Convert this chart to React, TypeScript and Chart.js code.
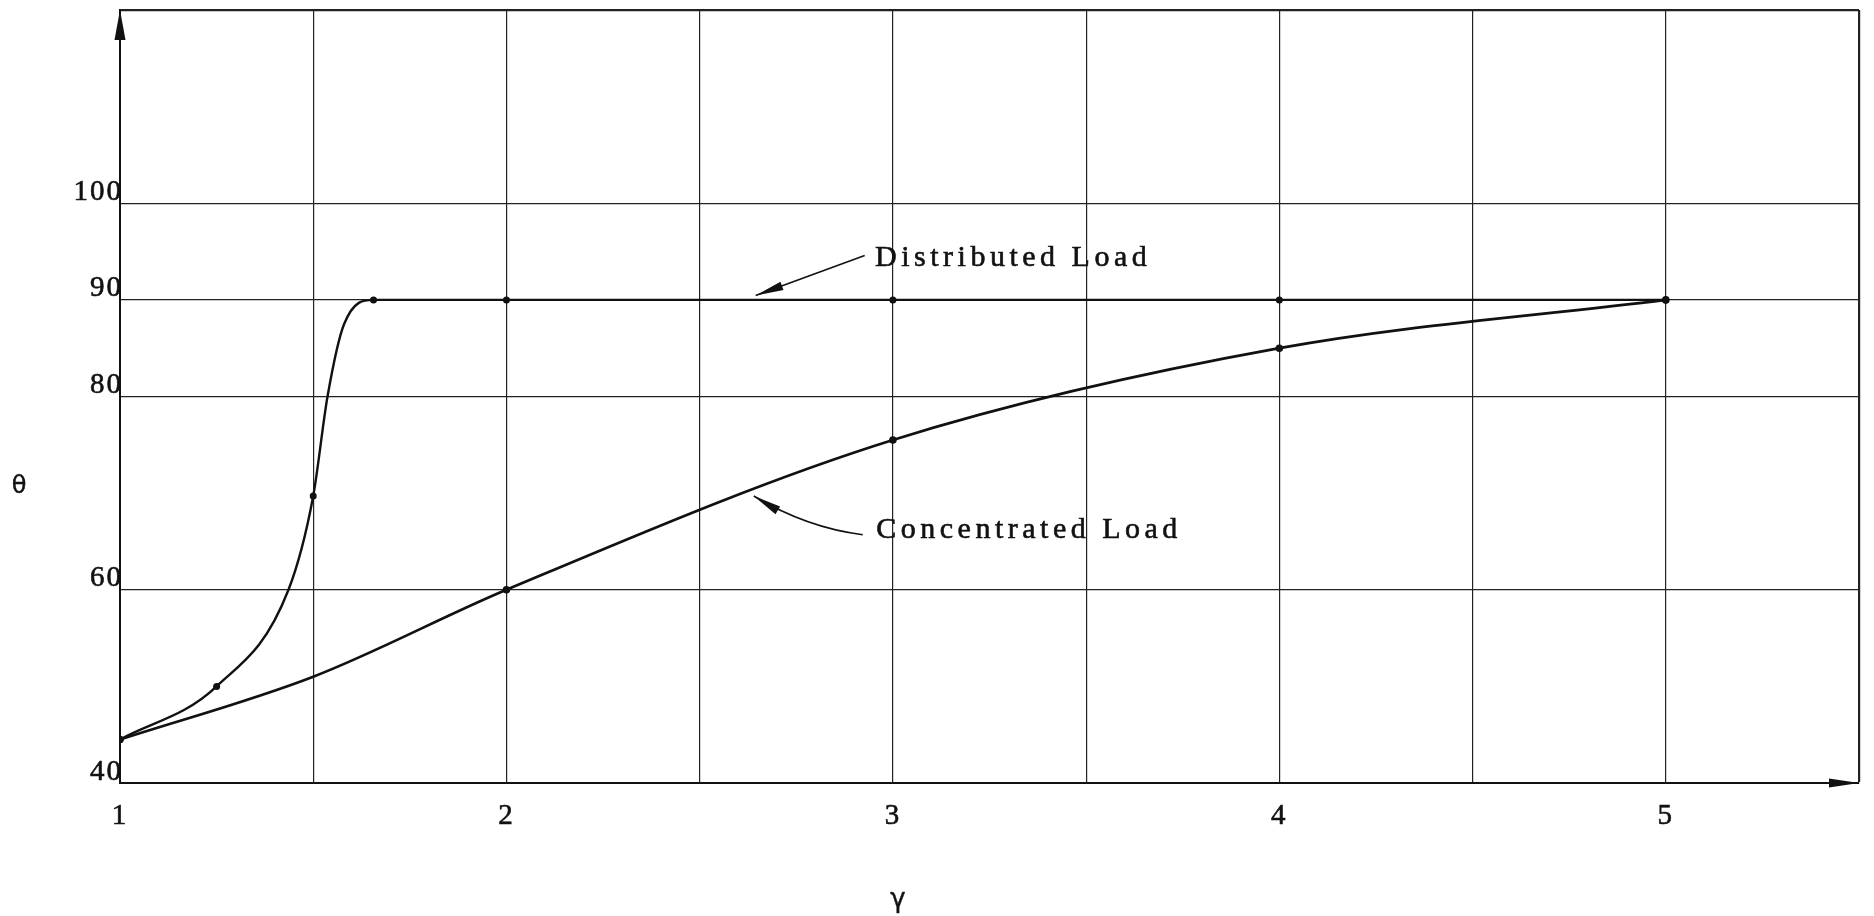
import React, { useEffect, useRef } from "react";
import { Chart, registerables } from "chart.js";

Chart.register(...registerables);

// Distributed load: gamma (x) and theta (y)
// (unmarked entries are readings taken along the drawn curve)
const gammaDistributed = [1, 1.25, 1.436, 1.5, 1.537, 1.58, 1.656, 2, 3, 4, 5];
const thetaDistributed = [44.5, 50.0, 60, 69.7, 80, 87.5, 90, 90, 90, 90, 90];
const markDistributed = [true, true, false, true, false, false, true, true, true, true, true];

// Concentrated load
const gammaConcentrated = [1, 1.5, 2, 3, 4, 5];
const thetaConcentrated = [44.5, 51.0, 60, 75.5, 85.0, 90];
const markConcentrated = [true, false, true, true, true, true];

// Axes
const xTickLabels = [1, 2, 3, 4, 5];
const yGridValues = [40, 60, 80, 90, 100, 120];
const yTickLabels = [40, 60, 80, 90, 100];
const xMin = 1;
const xMax = 5.5;
const yMin = 40;
const yMax = 120;

const labelDistributed = "Distributed Load";
const labelConcentrated = "Concentrated Load";
const xTitle = "γ";
const yTitle = "θ";

// annotation anchors (data coordinates)
const annDistributed = { text: [2.954, 94.3], tail: [2.927, 94.6], head: [2.645, 90.45] };
const annConcentrated = { text: [2.957, 66.2], tail: [2.922, 65.7], ctrl: [2.778, 66.4], head: [2.64, 69.7] };

const INK = "#111";
const SERIF = '"Liberation Serif", "DejaVu Serif", serif';

function arrowHead(ctx: CanvasRenderingContext2D, fx: number, fy: number, tx: number, ty: number, len: number, half: number) {
  const ang = Math.atan2(ty - fy, tx - fx);
  const bx = tx - Math.cos(ang) * len;
  const by = ty - Math.sin(ang) * len;
  const nx = -Math.sin(ang) * half;
  const ny = Math.cos(ang) * half;
  ctx.beginPath();
  ctx.moveTo(tx, ty);
  ctx.lineTo(bx + nx, by + ny);
  ctx.lineTo(bx - nx, by - ny);
  ctx.closePath();
  ctx.fill();
}

const overlayPlugin = {
  id: "overlay",
  beforeDraw(chart: any) {
    const ctx = chart.ctx as any;
    ctx.letterSpacing = "2px";
    ctx.fillStyle = "#fff";
    ctx.fillRect(0, 0, chart.width, chart.height);
  },
  afterDraw(chart: any) {
    const ctx = chart.ctx as CanvasRenderingContext2D;
    const { chartArea } = chart;
    const xs = chart.scales.x;
    const ys = chart.scales.y;
    ctx.save();
    ctx.fillStyle = INK;
    ctx.strokeStyle = INK;

    // y axis arrow
    const lx = chartArea.left;
    ctx.beginPath();
    ctx.moveTo(lx, chartArea.top);
    ctx.lineTo(lx - 5.5, chartArea.top + 30);
    ctx.lineTo(lx + 5.5, chartArea.top + 30);
    ctx.closePath();
    ctx.fill();

    // x axis arrow
    const by = chartArea.bottom;
    const rx = chartArea.right;
    ctx.beginPath();
    ctx.moveTo(rx, by);
    ctx.lineTo(rx - 30, by - 4.5);
    ctx.lineTo(rx - 30, by + 4.5);
    ctx.closePath();
    ctx.fill();

    // annotations
    ctx.font = `30px ${SERIF}`;
    (ctx as any).letterSpacing = "4.5px";
    ctx.textAlign = "left";
    ctx.textBaseline = "middle";
    ctx.lineWidth = 0.6;
    const dtx = xs.getPixelForValue(annDistributed.text[0]);
    const dty = ys.getPixelForValue(annDistributed.text[1]);
    ctx.strokeText(labelDistributed, dtx, dty);
    ctx.fillText(labelDistributed, dtx, dty);
    const ctx0 = xs.getPixelForValue(annConcentrated.text[0]);
    const cty0 = ys.getPixelForValue(annConcentrated.text[1]);
    ctx.strokeText(labelConcentrated, ctx0, cty0);
    ctx.fillText(labelConcentrated, ctx0, cty0);

    ctx.lineWidth = 1.6;
    // distributed arrow
    const d0x = xs.getPixelForValue(annDistributed.tail[0]);
    const d0y = ys.getPixelForValue(annDistributed.tail[1]);
    const d1x = xs.getPixelForValue(annDistributed.head[0]);
    const d1y = ys.getPixelForValue(annDistributed.head[1]);
    ctx.beginPath();
    ctx.moveTo(d0x, d0y);
    ctx.lineTo(d1x, d1y);
    ctx.stroke();
    arrowHead(ctx, d0x, d0y, d1x, d1y, 28, 4.5);

    // concentrated arrow (curved)
    const c0x = xs.getPixelForValue(annConcentrated.tail[0]);
    const c0y = ys.getPixelForValue(annConcentrated.tail[1]);
    const ccx = xs.getPixelForValue(annConcentrated.ctrl[0]);
    const ccy = ys.getPixelForValue(annConcentrated.ctrl[1]);
    const c1x = xs.getPixelForValue(annConcentrated.head[0]);
    const c1y = ys.getPixelForValue(annConcentrated.head[1]);
    ctx.beginPath();
    ctx.moveTo(c0x, c0y);
    ctx.quadraticCurveTo(ccx, ccy, c1x, c1y);
    ctx.stroke();
    arrowHead(ctx, ccx, ccy, c1x, c1y, 28, 4.5);

    // axis titles
    (ctx as any).letterSpacing = "0px";
    ctx.textAlign = "center";
    ctx.lineWidth = 0.4;
    ctx.font = `24px "DejaVu Sans", sans-serif`;
    const tx = chartArea.left - 101;
    const ty = ys.getPixelForValue(70.7);
    ctx.strokeText(yTitle, tx, ty);
    ctx.fillText(yTitle, tx, ty);
    ctx.font = `26px "DejaVu Sans", sans-serif`;
    const gx = xs.getPixelForValue(3.013);
    const gy = chartArea.bottom + 117;
    ctx.strokeText(xTitle, gx, gy);
    ctx.fillText(xTitle, gx, gy);
    ctx.restore();
  },
};

export default function App() {
  const ref = useRef<HTMLCanvasElement>(null);

  useEffect(() => {
    if (!ref.current) return;
    const chart = new Chart(ref.current, {
      type: "line",
      data: {
        datasets: [
          {
            label: labelDistributed,
            data: gammaDistributed.map((g, i) => ({ x: g, y: thetaDistributed[i] })),
            borderColor: INK,
            backgroundColor: INK,
            borderWidth: 2.4,
            pointRadius: markDistributed.map((m) => (m ? 3.5 : 0)),
            pointBackgroundColor: INK,
            pointBorderWidth: 0,
            cubicInterpolationMode: "monotone",
            fill: false,
          },
          {
            label: labelConcentrated,
            data: gammaConcentrated.map((g, i) => ({ x: g, y: thetaConcentrated[i] })),
            borderColor: INK,
            backgroundColor: INK,
            borderWidth: 2.7,
            pointRadius: markConcentrated.map((m) => (m ? 3.8 : 0)),
            pointBackgroundColor: INK,
            pointBorderWidth: 0,
            cubicInterpolationMode: "monotone",
            fill: false,
          },
        ],
      },
      options: {
        responsive: false,
        animation: false,
        events: [],
        layout: { padding: { top: 10, right: 15, left: 0, bottom: 0 } },
        plugins: {
          legend: { display: false },
          tooltip: { enabled: false },
        },
        scales: {
          x: {
            type: "linear",
            min: xMin,
            max: xMax,
            afterFit: (scale: any) => {
              scale.height = 133;
              scale.paddingLeft = 0;
              scale.paddingRight = 0;
            },
            ticks: {
              stepSize: 0.5,
              autoSkip: false,
              maxRotation: 0,
              color: INK,
              padding: 16,
              textStrokeColor: INK,
              textStrokeWidth: 0.6,
              font: { family: SERIF, size: 29 },
              callback: (v: any) => (xTickLabels.includes(Number(v)) ? String(v) : ""),
            },
            grid: {
              color: "#222",
              lineWidth: (c: any) => (c.tick && c.tick.value === xMax ? 2.2 : 1.2),
              drawTicks: false,
            },
            border: { display: true, color: INK, width: 2 },
          },
          y: {
            type: "linear",
            min: yMin,
            max: yMax,
            afterFit: (scale: any) => {
              scale.width = 120;
              scale.paddingTop = 0;
              scale.paddingBottom = 0;
            },
            afterBuildTicks: (scale: any) => {
              scale.ticks = yGridValues.map((v) => ({ value: v }));
            },
            ticks: {
              autoSkip: false,
              color: INK,
              padding: -3,
              labelOffset: -11,
              textStrokeColor: INK,
              textStrokeWidth: 0.6,
              font: { family: SERIF, size: 29 },
              callback: (v: any) => (yTickLabels.includes(Number(v)) ? String(v) : ""),
            },
            grid: {
              color: "#222",
              lineWidth: (c: any) => (c.tick && c.tick.value === yMax ? 2.2 : 1.2),
              drawTicks: false,
            },
            border: { display: true, color: INK, width: 2 },
          },
        },
      },
      plugins: [overlayPlugin],
    } as any);
    return () => chart.destroy();
  }, []);

  return (
    <div style={{ position: "absolute", left: 0, top: 0, width: 1874, height: 916, background: "#fff" }}>
      <canvas ref={ref} width={1874} height={916} style={{ display: "block" }} />
    </div>
  );
}
